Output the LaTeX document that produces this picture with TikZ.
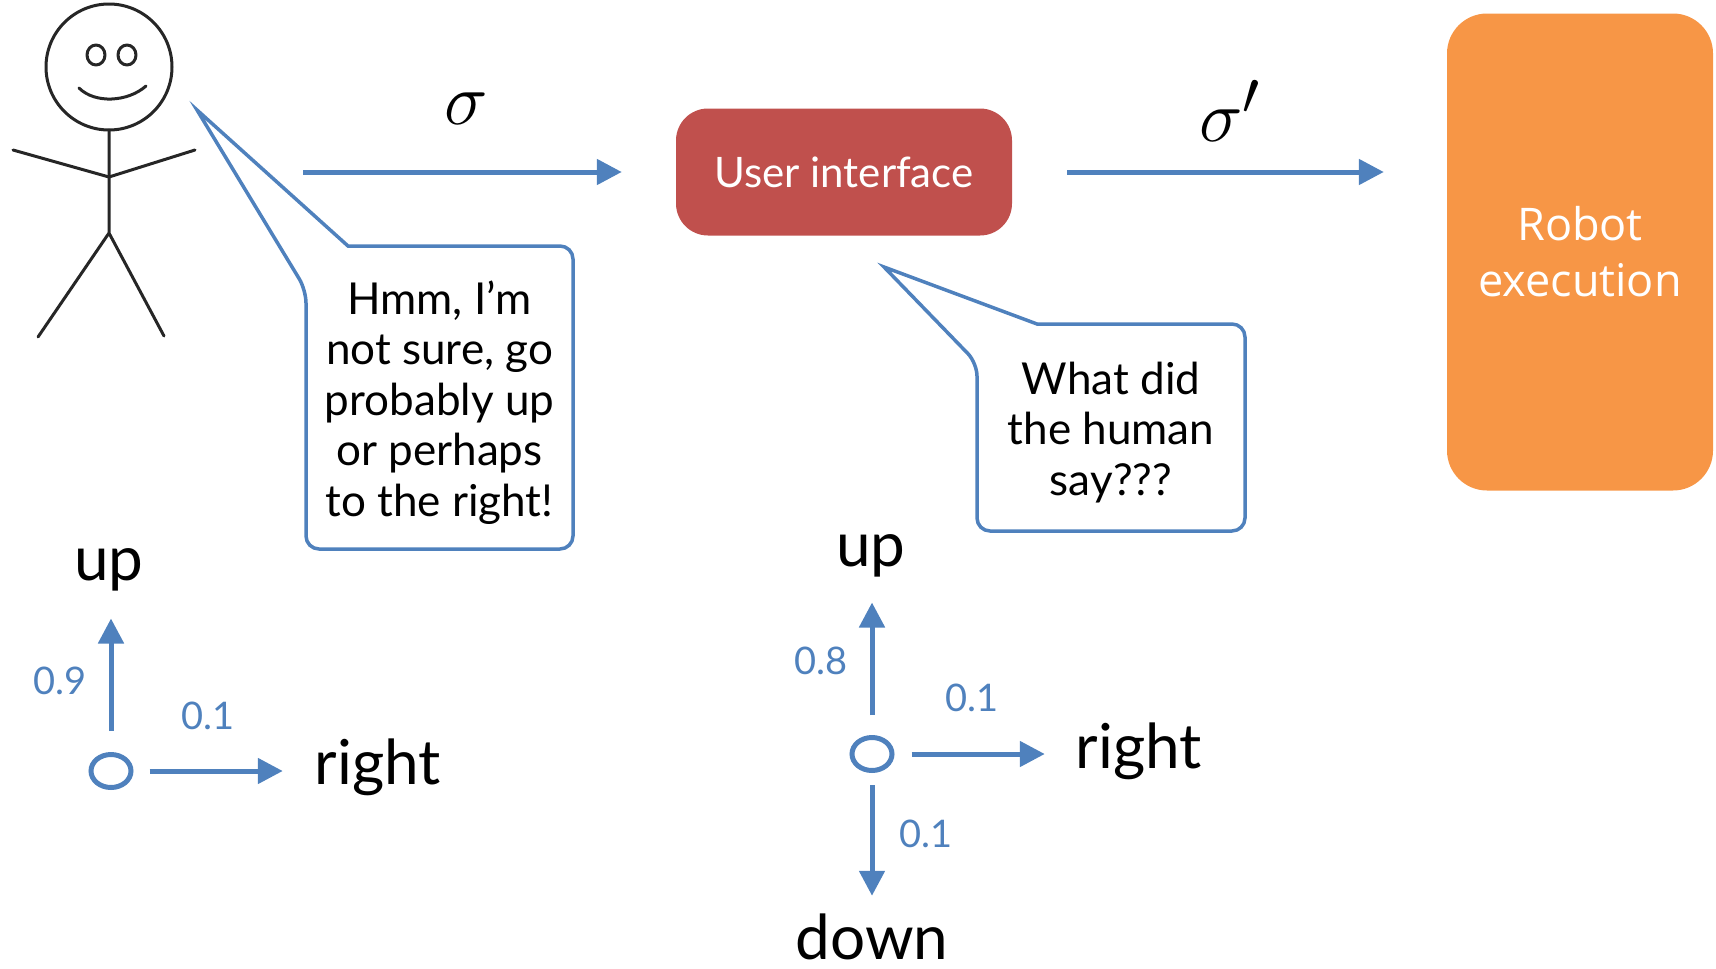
\documentclass[tikz,border=0pt]{standalone}
\usepackage{fontspec}
\setmainfont{Lato}
\newfontfamily\robotfont{Open Sans}
\usetikzlibrary{arrows.meta,shapes.geometric,positioning}

\definecolor{ppblue}{HTML}{4F81BD}
\definecolor{ppred}{HTML}{C0504D}
\definecolor{pporange}{HTML}{F79646}

% text sizes (1pt = 1px of the slide)
\newcommand\dirtxt{\fontsize{62}{68}\selectfont}
\newcommand\probtxt{\fontsize{38}{42}\selectfont}
\newcommand\talktxt{\fontsize{44}{50.5}\selectfont}
\newcommand\uitxt{\fontsize{42}{48}\selectfont}
\newcommand\robottxt{\robotfont\fontsize{45}{56}\selectfont}

\begin{document}
\begin{tikzpicture}[x=1pt,y=-1pt,
  flow/.style={draw=ppblue,line width=5pt,-{Triangle[length=25pt,width=25pt]}},
  stick/.style={draw=black!85,line width=3pt,line join=round,line cap=round},
  talkline/.style={draw=ppblue,line width=3.5pt},
  talkbox/.style={inner sep=0pt,outer sep=0pt},
  talk/.style={inner sep=0pt,align=center,font=\talktxt},
  state/.style={ellipse,draw=ppblue,line width=5pt,minimum width=40pt,minimum height=33pt,inner sep=0pt},
  dir/.style={inner sep=0pt,font=\dirtxt},
  prob/.style={inner sep=0pt,text=ppblue,font=\probtxt},
  sig/.style={inner sep=0pt,font=\Huge,scale=2.95}]
  \useasboundingbox (0,0) rectangle (1716,969);

  % the human
  \draw[stick] (109,67) circle (63);
  \draw[stick] (96,55) ellipse (9 and 10);
  \draw[stick] (127,55) ellipse (9 and 10);
  \draw[stick] (79,88) .. controls (95,104) and (128,102) .. (146,86);
  \draw[stick] (109,130) -- (109,233) -- (38,337) (109,233) -- (164,336);
  \draw[stick] (13,150) -- (109,177) -- (195,150);

  % pipeline boxes
  \node[fill=ppred,text=white,font=\uitxt,rounded corners=32pt,
        minimum width=336pt,minimum height=127pt] (ui) at (844,172) {User interface};
  \node[fill=pporange,text=white,font=\robottxt,align=center,rounded corners=40pt,
        minimum width=266pt,minimum height=477pt] (robot) at (1580,252) {Robot\\execution};

  \coordinate (mouth) at (303,172);
  \draw[flow,shorten >=54pt] (mouth) -- (ui.west);
  \draw[flow,shorten <=55pt,shorten >=63pt] (ui.east) -- (ui.east -| robot.west);
  \node[sig] (sig) at (466,109) {$\sigma$};
  \node[sig] (sigp) at (1230,111) {$\sigma'$};

  % speech bubbles
  \coordinate (tip1) at (197,110);
  \node[talkbox,minimum width=267pt,minimum height=303pt] (hmm) at (439.5,397.5) {};
  \node[talk] (hmmtext) at ([yshift=-5pt]hmm.center)
    {Hmm, I’m\\not sure, go\\probably up\\or perhaps\\to the right!};
  \draw[talkline] (tip1) -- ([xshift=42pt]hmm.north west)
    {[rounded corners=13pt] -- (hmm.north east) -- (hmm.south east) -- (hmm.south west)
    -- ([yshift=-44pt]hmm.north west)} -- cycle;

  \coordinate (tip2) at (884,267);
  \node[talkbox,minimum width=268pt,minimum height=207pt] (what) at (1111,427.5) {};
  \node[talk] (whattext) at ([yshift=-5pt]what.center)
    {What did\\the human\\say???};
  \draw[talkline] (tip2) -- ([xshift=60pt]what.north west)
    {[rounded corners=13pt] -- (what.north east) -- (what.south east) -- (what.south west)
    -- ([yshift=-39pt]what.north west)} -- cycle;

  % what the human means
  \node[state] (s1) at (111,771) {};
  \node[dir] (up1) at (109,570) {up};
  \node[dir] (right1) at (378,767) {right};
  \draw[flow,shorten <=21pt,shorten >=27pt] (s1) -- (s1 |- up1.south);
  \draw[flow,shorten <=16pt,shorten >=32pt] (s1) -- (s1 -| right1.west);
  \node[prob] (p1up) at (60,681) {0.9};
  \node[prob] (p1right) at (208,716) {0.1};

  % what the interface understands
  \node[state] (s2) at (872,754) {};
  \node[dir] (up2) at (871,556) {up};
  \node[dir] (right2) at (1139,751) {right};
  \node[dir] (down2) at (872,937) {down};
  \draw[flow,shorten <=20pt,shorten >=25pt] (s2) -- (s2 |- up2.south);
  \draw[flow,shorten <=17pt,shorten >=31pt] (s2) -- (s2 -| right2.west);
  \draw[flow,shorten <=12pt,shorten >=18pt] (s2) -- (s2 |- down2.north);
  \node[prob] (p2up) at (821,661) {0.8};
  \node[prob] (p2right) at (972,698) {0.1};
  \node[prob] (p2down) at (926,834) {0.1};
\end{tikzpicture}
\end{document}
